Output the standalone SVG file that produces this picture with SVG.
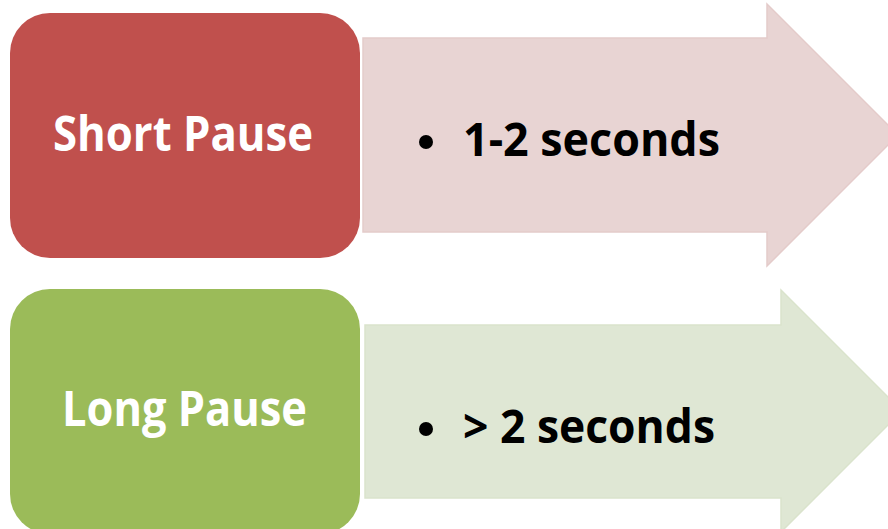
<svg xmlns="http://www.w3.org/2000/svg" width="888" height="529" viewBox="0 0 888 529">
<style>
.box-red{fill:#C0504D}
.box-green{fill:#9BBB59}
.arr-red{fill:#E8D4D3;stroke:#E4CBCA;stroke-width:1.5}
.arr-green{fill:#DFE7D4;stroke:#DAE3CC;stroke-width:1.5}
.lbl{font-family:"Open Sans","Liberation Sans",sans-serif;font-weight:700;font-size:49px;fill:#FFFFFF}
.item{font-family:"Open Sans","Liberation Sans",sans-serif;font-weight:700;font-size:47px;fill:#000000}
</style>
<rect width="888" height="529" fill="#FFFFFF"/>
<g id="arrow-short">
<path class="arr-red" d="M363,38 H767 V4 L898,135 L767,266 V232 H363 Z"/>
<circle cx="426" cy="142" r="7" fill="#000"/>
<text class="item" x="463" y="156" textLength="257" lengthAdjust="spacingAndGlyphs">1-2 seconds</text>
</g>
<g id="arrow-long">
<path class="arr-green" d="M365,325 H781 V290 L902,411 L781,532 V498 H365 Z"/>
<circle cx="426" cy="429" r="7" fill="#000"/>
<text class="item" x="463" y="443" textLength="252" lengthAdjust="spacingAndGlyphs">&gt; 2 seconds</text>
</g>
<g id="short-pause">
<rect class="box-red" x="10" y="13" width="350" height="245" rx="40" ry="40"/>
<text class="lbl" x="53" y="151" textLength="260" lengthAdjust="spacingAndGlyphs">Short Pause</text>
</g>
<g id="long-pause">
<rect class="box-green" x="10" y="289" width="350" height="245" rx="40" ry="40"/>
<text class="lbl" x="62" y="426" textLength="245" lengthAdjust="spacingAndGlyphs">Long Pause</text>
</g>
<g id="connectors"/>
</svg>
